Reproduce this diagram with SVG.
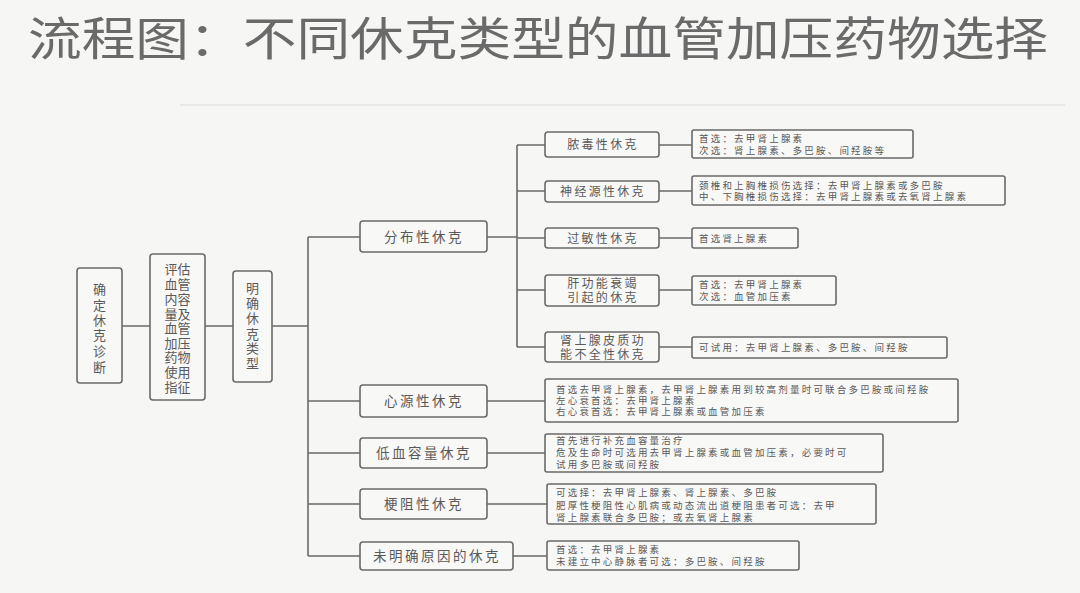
<svg xmlns="http://www.w3.org/2000/svg" width="1080" height="593" viewBox="0 0 1080 593">
<style>
text{font-family:"Noto Sans CJK SC","Noto Sans",sans-serif;fill:#5a5a5a}
.box{fill:#f8f8f7;stroke:#6a6a6a;stroke-width:1.6}
.ln{stroke:#6a6a6a;stroke-width:1.6;fill:none}
.v{font-size:13px;text-anchor:middle}
.m{font-size:13.5px;letter-spacing:2.5px;text-anchor:middle}
.s{font-size:12px;letter-spacing:2.3px;text-anchor:middle}
.d{font-size:9.5px;letter-spacing:2.2px}
</style>
<rect width="1080" height="593" fill="#f6f6f4"/>
<text x="28" y="55" font-size="46" textLength="1020" lengthAdjust="spacingAndGlyphs" style="fill:#6a6a6a">流程图：不同休克类型的血管加压药物选择</text>
<line x1="180" y1="105" x2="1065" y2="105" stroke="#e4e4e2" stroke-width="1.5"/>

<g id="connectors">
<path class="ln" d="M122 326H150M205 326H233M272 326H308M308 237V556M308 237H360M308 401H360M308 453H360M308 504H360M308 556H360"/>
<path class="ln" d="M487 237H517M517 145V347M517 145H545M517 191H545M517 238H545M517 290H545M517 347H545"/>
<path class="ln" d="M659 145H692M659 191H692M659 238H692M659 290H692M659 347H692"/>
<path class="ln" d="M487 401H545M487 453H545M487 504H547M513 556H547"/>
</g>

<g id="n-diag"><rect class="box" x="77" y="268" width="45" height="115" rx="3"/>
<text class="v"><tspan x="99.5" y="294">确</tspan><tspan x="99.5" y="310">定</tspan><tspan x="99.5" y="325">休</tspan><tspan x="99.5" y="340">克</tspan><tspan x="99.5" y="356">诊</tspan><tspan x="99.5" y="372">断</tspan></text></g>

<g id="n-eval"><rect class="box" x="150" y="254" width="55" height="146" rx="3"/>
<text class="v"><tspan x="177.5" y="274">评估</tspan><tspan x="177.5" y="289">血管</tspan><tspan x="177.5" y="304">内容</tspan><tspan x="177.5" y="319">量及</tspan><tspan x="177.5" y="333">血管</tspan><tspan x="177.5" y="348">加压</tspan><tspan x="177.5" y="362">药物</tspan><tspan x="177.5" y="377">使用</tspan><tspan x="177.5" y="392">指征</tspan></text></g>

<g id="n-type"><rect class="box" x="233" y="271" width="39" height="111" rx="3"/>
<text class="v"><tspan x="252.5" y="293">明</tspan><tspan x="252.5" y="308">确</tspan><tspan x="252.5" y="323">休</tspan><tspan x="252.5" y="339">克</tspan><tspan x="252.5" y="353">类</tspan><tspan x="252.5" y="368">型</tspan></text></g>

<g id="n-dist"><rect class="box" x="360" y="221" width="127" height="31" rx="3"/><text class="m" x="424" y="242">分布性休克</text></g>
<g id="n-card"><rect class="box" x="360" y="385" width="127" height="32" rx="3"/><text class="m" x="424" y="406">心源性休克</text></g>
<g id="n-hypo"><rect class="box" x="360" y="438" width="127" height="30" rx="3"/><text class="m" x="424" y="458">低血容量休克</text></g>
<g id="n-obst"><rect class="box" x="360" y="489" width="127" height="30" rx="3"/><text class="m" x="424" y="509">梗阻性休克</text></g>
<g id="n-unk"><rect class="box" x="360" y="542" width="153" height="28" rx="3"/><text class="m" x="437" y="561">未明确原因的休克</text></g>

<g id="n-sep"><rect class="box" x="545" y="132" width="114" height="25" rx="3"/><text class="s" x="603" y="149">脓毒性休克</text></g>
<g id="n-neuro"><rect class="box" x="545" y="181" width="114" height="21" rx="3"/><text class="s" x="603" y="196">神经源性休克</text></g>
<g id="n-ana"><rect class="box" x="545" y="228" width="114" height="20" rx="3"/><text class="s" x="603" y="243">过敏性休克</text></g>
<g id="n-liver"><rect class="box" x="545" y="275" width="114" height="31" rx="3"/><text class="s"><tspan x="603" y="288">肝功能衰竭</tspan><tspan x="603" y="302">引起的休克</tspan></text></g>
<g id="n-adr"><rect class="box" x="545" y="332" width="114" height="30" rx="3"/><text class="s"><tspan x="603" y="345">肾上腺皮质功</tspan><tspan x="603" y="359">能不全性休克</tspan></text></g>

<g id="d-sep"><rect class="box" x="692" y="130" width="221" height="28" rx="2"/><text class="d"><tspan x="699" y="142">首选：去甲肾上腺素</tspan><tspan x="699" y="154">次选：肾上腺素、多巴胺、间羟胺等</tspan></text></g>
<g id="d-neuro"><rect class="box" x="692" y="176" width="313" height="29" rx="2"/><text class="d"><tspan x="699" y="189">颈椎和上胸椎损伤选择：去甲肾上腺素或多巴胺</tspan><tspan x="699" y="200">中、下胸椎损伤选择：去甲肾上腺素或去氧肾上腺素</tspan></text></g>
<g id="d-ana"><rect class="box" x="692" y="228" width="106" height="20" rx="2"/><text class="d" x="699" y="242">首选肾上腺素</text></g>
<g id="d-liver"><rect class="box" x="692" y="276" width="144" height="29" rx="2"/><text class="d"><tspan x="699" y="288">首选：去甲肾上腺素</tspan><tspan x="699" y="300">次选：血管加压素</tspan></text></g>
<g id="d-adr"><rect class="box" x="692" y="337" width="255" height="21" rx="2"/><text class="d" x="699" y="351">可试用：去甲肾上腺素、多巴胺、间羟胺</text></g>

<g id="d-card"><rect class="box" x="545" y="379" width="413" height="43" rx="2"/><text class="d"><tspan x="556" y="393">首选去甲肾上腺素，去甲肾上腺素用到较高剂量时可联合多巴胺或间羟胺</tspan><tspan x="556" y="404">左心衰首选：去甲肾上腺素</tspan><tspan x="556" y="415">右心衰首选：去甲肾上腺素或血管加压素</tspan></text></g>
<g id="d-hypo"><rect class="box" x="545" y="434" width="338" height="38" rx="2"/><text class="d"><tspan x="556" y="444">首先进行补充血容量治疗</tspan><tspan x="556" y="456">危及生命时可选用去甲肾上腺素或血管加压素，必要时可</tspan><tspan x="556" y="468">试用多巴胺或间羟胺</tspan></text></g>
<g id="d-obst"><rect class="box" x="547" y="484" width="329" height="40" rx="2"/><text class="d"><tspan x="556" y="496">可选择：去甲肾上腺素、肾上腺素、多巴胺</tspan><tspan x="556" y="509">肥厚性梗阻性心肌病或动态流出道梗阻患者可选：去甲</tspan><tspan x="556" y="521">肾上腺素联合多巴胺；或去氧肾上腺素</tspan></text></g>
<g id="d-unk"><rect class="box" x="547" y="541" width="252" height="29" rx="2"/><text class="d"><tspan x="556" y="553">首选：去甲肾上腺素</tspan><tspan x="556" y="565">未建立中心静脉者可选：多巴胺、间羟胺</tspan></text></g>
</svg>
